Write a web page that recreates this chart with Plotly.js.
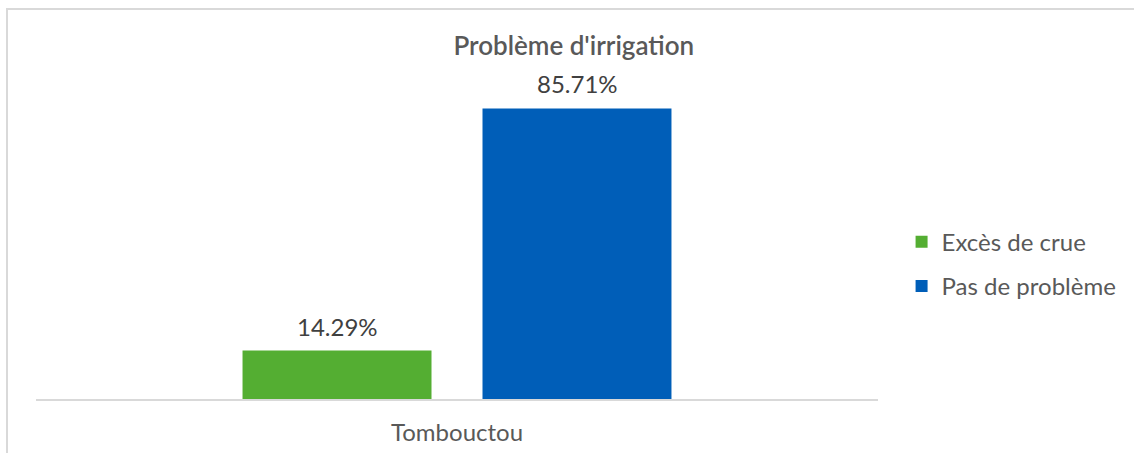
<!DOCTYPE html>
<html>
<head>
<meta charset="utf-8">
<script src="https://cdn.plot.ly/plotly-3.0.1.min.js"></script>
<style>
  body { margin: 0; background: #fff; }
  #frame { position: absolute; left: 6px; top: 8px; width: 1200px; height: 500px;
           border-left: 2px solid #d9d9d9; border-top: 2px solid #d9d9d9; }
  #chart { position: absolute; left: 0; top: 0; width: 1134px; height: 453px; }
</style>
</head>
<body>
<div id="frame"></div>
<div id="chart"></div>
<script>
// données du graphique
const categories = ["Tombouctou"];
const seriesNames = ["Excès de crue", "Pas de problème"];
const excesCrue = [14.29];
const pasProbleme = [85.71];
const colors = ["#54AE32", "#005EB8"];

const fmt = v => v.toFixed(2) + "%";
const allSeries = [excesCrue, pasProbleme];

const traces = allSeries.map((vals, i) => ({
  type: "bar",
  name: seriesNames[i],
  legendgroup: "g" + i,
  x: categories,
  y: vals,
  marker: { color: colors[i] },
  hoverinfo: "none"
}));

// étiquettes de valeur au-dessus des barres (positionnées par les axes)
const nSeries = allSeries.length;
const annotations = [];
allSeries.forEach((vals, i) => {
  vals.forEach((v, j) => {
    annotations.push({
      x: j, xref: "x", y: v, yref: "y",
      xshift: (i - (nSeries - 1) / 2) * 240,
      yanchor: "bottom", yshift: 8,
      text: fmt(v), showarrow: false,
      font: { family: "Lato", size: 24, color: "#404040" }
    });
  });
});

const layout = {
  width: 1134,
  height: 453,
  margin: { l: 36, r: 256, t: 60, b: 54 },
  paper_bgcolor: "rgba(0,0,0,0)",
  plot_bgcolor: "rgba(0,0,0,0)",
  font: { family: "Lato", color: "#595959" },
  title: {
    text: "Problème d'irrigation",
    font: { family: "Lato", size: 26, weight: 600, color: "#595959" },
    x: 0.506, xanchor: "center",
    y: 0.898, yanchor: "middle"
  },
  barmode: "group",
  bargap: 0.43,
  bargroupgap: 0.2125,
  xaxis: {
    showline: true,
    linecolor: "#d9d9d9",
    linewidth: 2,
    ticks: "",
    ticklabelstandoff: 11,
    tickfont: { family: "Lato", size: 24, color: "#595959" },
    fixedrange: true
  },
  yaxis: {
    range: [0, 100],
    visible: false,
    fixedrange: true
  },
  annotations: annotations,
  legend: {
    x: 1.028, xanchor: "left",
    y: 0.398, yanchor: "middle",
    font: { family: "Lato", size: 24, color: "#595959" },
    tracegroupgap: 10,
    traceorder: "grouped"
  },
  showlegend: true
};

Plotly.newPlot("chart", traces, layout, { displayModeBar: false, staticPlot: true });
</script>
</body>
</html>
